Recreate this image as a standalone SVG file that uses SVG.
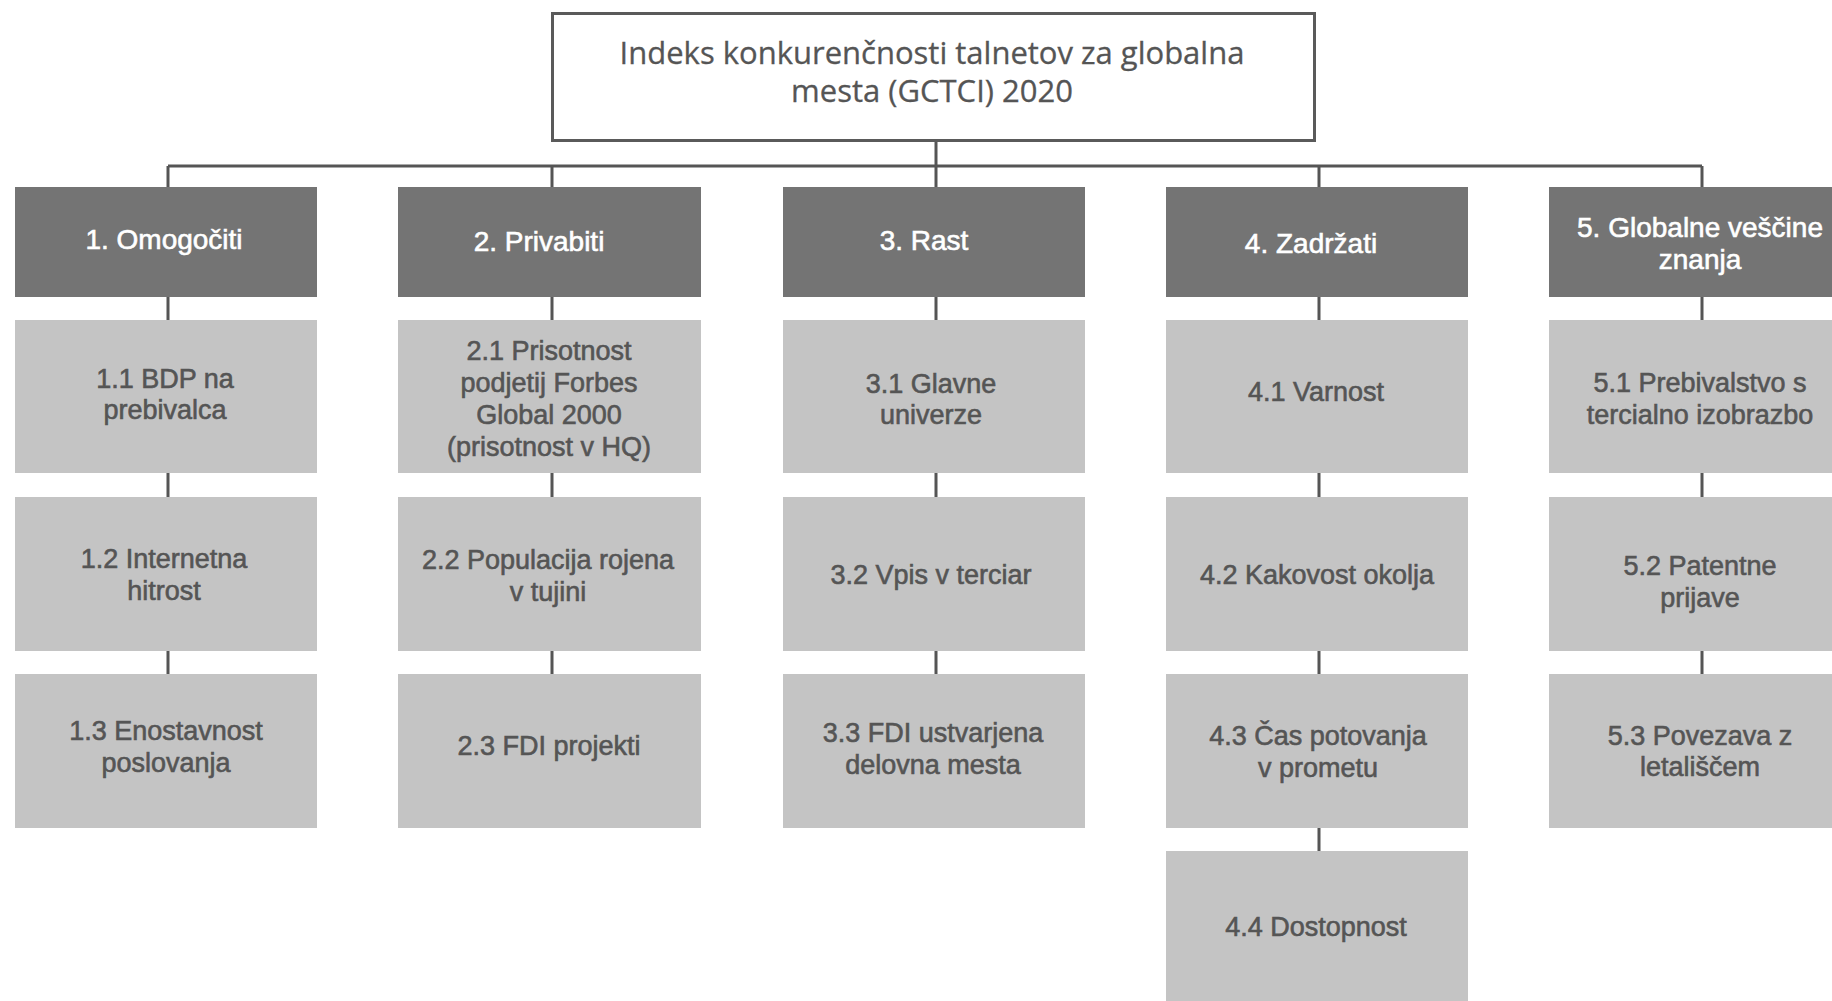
<svg xmlns="http://www.w3.org/2000/svg" width="1832" height="1001" viewBox="0 0 1832 1001">
<style>
.root{fill:#ffffff;stroke:#5a5a5a;stroke-width:3}
.cat{fill:#747474}
.sub{fill:#c4c4c4}
.tt{font-family:"Open Sans","Noto Sans",sans-serif;font-size:31px;fill:#555555;text-anchor:middle;stroke:#555555;stroke-width:0.3}
.ct{font-family:"Liberation Sans",Arial,sans-serif;font-size:28px;fill:#ffffff;text-anchor:middle;stroke:#ffffff;stroke-width:0.6}
.st{font-family:"Liberation Sans",Arial,sans-serif;font-size:27px;fill:#555555;text-anchor:middle;stroke:#555555;stroke-width:0.6}
.ln{stroke:#555555;stroke-width:3;fill:none}
</style>
<rect width="1832" height="1001" fill="#ffffff"/>
<g id="connectors">
<line class="ln" x1="936" y1="141" x2="936" y2="166"/>
<line class="ln" x1="168" y1="166" x2="1702" y2="166"/>
<line class="ln" x1="168" y1="166" x2="168" y2="187"/>
<line class="ln" x1="552" y1="166" x2="552" y2="187"/>
<line class="ln" x1="936" y1="166" x2="936" y2="187"/>
<line class="ln" x1="1319" y1="166" x2="1319" y2="187"/>
<line class="ln" x1="1702" y1="166" x2="1702" y2="187"/>
<path class="ln" d="M168 297V320M168 473V497M168 651V674"/>
<path class="ln" d="M552 297V320M552 473V497M552 651V674"/>
<path class="ln" d="M936 297V320M936 473V497M936 651V674"/>
<path class="ln" d="M1319 297V320M1319 473V497M1319 651V674M1319 828V851"/>
<path class="ln" d="M1702 297V320M1702 473V497M1702 651V674"/>
</g>
<g id="root">
<rect class="root" x="552.5" y="13.5" width="762" height="127"/>
<text class="tt" x="932" y="64">Indeks konkurenčnosti talnetov za globalna</text>
<text class="tt" x="932" y="102">mesta (GCTCI) 2020</text>
</g>
<g id="c1"><rect class="cat" x="15" y="187" width="302" height="110"/><text class="ct" x="164" y="249">1. Omogočiti</text></g>
<g id="c2"><rect class="cat" x="398" y="187" width="303" height="110"/><text class="ct" x="539" y="251">2. Privabiti</text></g>
<g id="c3"><rect class="cat" x="783" y="187" width="302" height="110"/><text class="ct" x="924" y="250">3. Rast</text></g>
<g id="c4"><rect class="cat" x="1166" y="187" width="302" height="110"/><text class="ct" x="1311" y="253">4. Zadržati</text></g>
<g id="c5"><rect class="cat" x="1549" y="187" width="290" height="110"/><text class="ct" x="1700" y="237">5. Globalne veščine</text><text class="ct" x="1700" y="269">znanja</text></g>

<g id="n11"><rect class="sub" x="15" y="320" width="302" height="153"/><text class="st" x="165" y="388">1.1 BDP na</text><text class="st" x="165" y="419">prebivalca</text></g>
<g id="n12"><rect class="sub" x="15" y="497" width="302" height="154"/><text class="st" x="164" y="568">1.2 Internetna</text><text class="st" x="164" y="600">hitrost</text></g>
<g id="n13"><rect class="sub" x="15" y="674" width="302" height="154"/><text class="st" x="166" y="740">1.3 Enostavnost</text><text class="st" x="166" y="772">poslovanja</text></g>

<g id="n21"><rect class="sub" x="398" y="320" width="303" height="153"/><text class="st" x="549" y="360">2.1 Prisotnost</text><text class="st" x="549" y="392">podjetij Forbes</text><text class="st" x="549" y="424">Global 2000</text><text class="st" x="549" y="456">(prisotnost v HQ)</text></g>
<g id="n22"><rect class="sub" x="398" y="497" width="303" height="154"/><text class="st" x="548" y="569">2.2 Populacija rojena</text><text class="st" x="548" y="601">v tujini</text></g>
<g id="n23"><rect class="sub" x="398" y="674" width="303" height="154"/><text class="st" x="549" y="755">2.3 FDI projekti</text></g>

<g id="n31"><rect class="sub" x="783" y="320" width="302" height="153"/><text class="st" x="931" y="393">3.1 Glavne</text><text class="st" x="931" y="424">univerze</text></g>
<g id="n32"><rect class="sub" x="783" y="497" width="302" height="154"/><text class="st" x="931" y="584">3.2 Vpis v terciar</text></g>
<g id="n33"><rect class="sub" x="783" y="674" width="302" height="154"/><text class="st" x="933" y="742">3.3 FDI ustvarjena</text><text class="st" x="933" y="774">delovna mesta</text></g>

<g id="n41"><rect class="sub" x="1166" y="320" width="302" height="153"/><text class="st" x="1316" y="401">4.1 Varnost</text></g>
<g id="n42"><rect class="sub" x="1166" y="497" width="302" height="154"/><text class="st" x="1317" y="584">4.2 Kakovost okolja</text></g>
<g id="n43"><rect class="sub" x="1166" y="674" width="302" height="154"/><text class="st" x="1318" y="745">4.3 Čas potovanja</text><text class="st" x="1318" y="777">v prometu</text></g>
<g id="n44"><rect class="sub" x="1166" y="851" width="302" height="160"/><text class="st" x="1316" y="936">4.4 Dostopnost</text></g>

<g id="n51"><rect class="sub" x="1549" y="320" width="290" height="153"/><text class="st" x="1700" y="392">5.1 Prebivalstvo s</text><text class="st" x="1700" y="424">tercialno izobrazbo</text></g>
<g id="n52"><rect class="sub" x="1549" y="497" width="290" height="154"/><text class="st" x="1700" y="575">5.2 Patentne</text><text class="st" x="1700" y="607">prijave</text></g>
<g id="n53"><rect class="sub" x="1549" y="674" width="290" height="154"/><text class="st" x="1700" y="745">5.3 Povezava z</text><text class="st" x="1700" y="776">letališčem</text></g>
</svg>
